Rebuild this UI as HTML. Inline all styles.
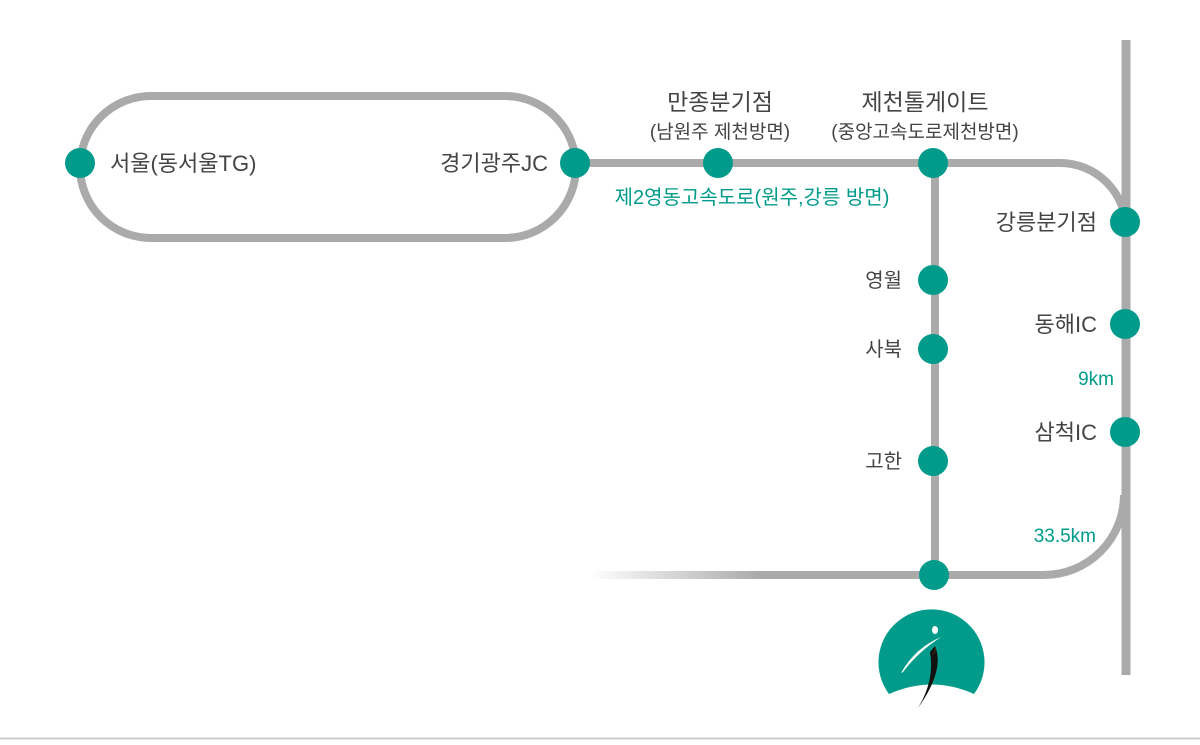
<!DOCTYPE html>
<html><head><meta charset="utf-8"><style>
body{margin:0;background:#fff}
svg text{font-family:"Liberation Sans","Noto Sans CJK KR",sans-serif}
</style></head><body>
<svg width="1200" height="740" viewBox="0 0 1200 740" xmlns="http://www.w3.org/2000/svg">
<defs>
<linearGradient id="fade" x1="590" y1="0" x2="760" y2="0" gradientUnits="userSpaceOnUse">
<stop offset="0" stop-color="#aaa" stop-opacity="0"/><stop offset="1" stop-color="#aaa"/>
</linearGradient>
</defs>
<g fill="none" stroke="#aaa" stroke-width="8">
<rect x="80" y="96" width="496" height="142" rx="71"/>
<path d="M576 163 H1060 A66 66 0 0 1 1126 229"/>
<line x1="1126" y1="40" x2="1126" y2="675" stroke-width="9"/>
<path d="M935 163 V575"/>
<path d="M1124 495 A80 80 0 0 1 1044 575 H760"/>
<path d="M760 575 H590" stroke="url(#fade)"/>
</g>
<g fill="#009b8a">
<circle cx="80" cy="163" r="15"/>
<circle cx="575" cy="163" r="15"/>
<circle cx="718" cy="163" r="15"/>
<circle cx="933" cy="163" r="15"/>
<circle cx="1125" cy="222" r="15"/>
<circle cx="933" cy="280" r="15"/>
<circle cx="933" cy="349" r="15"/>
<circle cx="1125" cy="324" r="15"/>
<circle cx="1125" cy="432" r="15"/>
<circle cx="933" cy="461" r="15"/>
<circle cx="934" cy="575" r="15"/>
</g>
<g fill="#444" font-size="22">
<text x="110" y="171">서울(동서울TG)</text>
<text x="548" y="171" text-anchor="end">경기광주JC</text>
<text x="720" y="110" text-anchor="middle" font-size="23">만종분기점</text>
<text x="720" y="138" text-anchor="middle" font-size="19">(남원주 제천방면)</text>
<text x="925" y="110" text-anchor="middle" font-size="23">제천톨게이트</text>
<text x="925" y="138" text-anchor="middle" font-size="19">(중앙고속도로제천방면)</text>
<text x="1097" y="230" text-anchor="end">강릉분기점</text>
<text x="1097" y="332" text-anchor="end">동해IC</text>
<text x="1097" y="440" text-anchor="end">삼척IC</text>
<text x="902" y="287" text-anchor="end" font-size="20">영월</text>
<text x="902" y="356" text-anchor="end" font-size="20">사북</text>
<text x="902" y="468" text-anchor="end" font-size="20">고한</text>
</g>
<g fill="#009b8a" font-size="19">
<text x="752" y="204" text-anchor="middle" font-size="20">제2영동고속도로(원주,강릉 방면)</text>
<text x="1114" y="385" text-anchor="end">9km</text>
<text x="1096" y="542" text-anchor="end">33.5km</text>
</g>
<path d="M889 694 A53 53 0 1 1 974 694 Q932 675 889 694 Z" fill="#009b8a"/>
<path d="M935 646 Q945 670 918 708 Q935 680 930 652 Z" fill="#111"/>
<path d="M937 646 L932 658 L935 650 Z" fill="#f08a00"/>
<path d="M901 673 Q915 648 941 637 Q918 652 903 672 Z" fill="#fff"/>
<ellipse cx="935" cy="630" rx="3" ry="4" fill="#fff"/>
<line x1="0" y1="738.5" x2="1200" y2="738.5" stroke="#ccc" stroke-width="2"/>
</svg>
</body></html>
